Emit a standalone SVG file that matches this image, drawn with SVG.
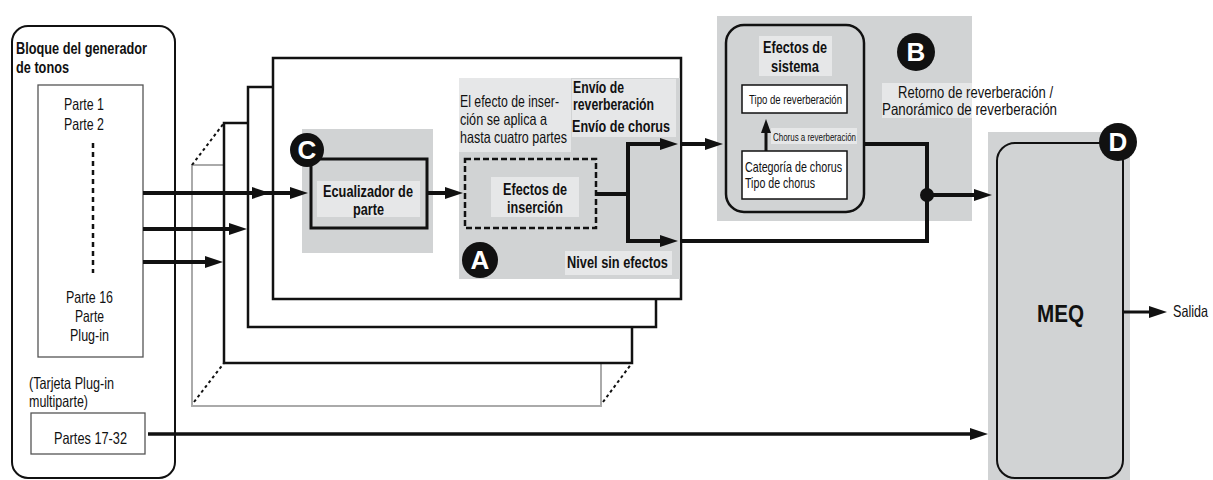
<svg xmlns="http://www.w3.org/2000/svg" width="1213" height="480" viewBox="0 0 1213 480">
<style>
text{font-family:"Liberation Sans",Arial,sans-serif;fill:#111}
.r{font-size:16.5px}
.b{font-size:16.5px;font-weight:bold}
.c{text-anchor:middle}
.gray{fill:#d1d3d4}
.lt{fill:#e6e7e8}
.ln{fill:none;stroke:#111;stroke-width:4}
.badge{fill:#111}
.bt{font-size:26px;font-weight:bold;fill:#fff;text-anchor:middle}
</style>
<defs>
<marker id="ah" markerUnits="userSpaceOnUse" viewBox="0 0 18 12" markerWidth="18" markerHeight="12" refX="1" refY="6" orient="auto-start-reverse" overflow="visible">
<path d="M0,0 L18,6 L0,12 z" fill="#111"/>
</marker>
<marker id="ahs" markerUnits="userSpaceOnUse" viewBox="0 0 14 10" markerWidth="14" markerHeight="10" refX="1" refY="5" orient="auto" overflow="visible">
<path d="M0,0 L14,5 L0,10 z" fill="#111"/>
</marker>
</defs>
<rect width="1213" height="480" fill="#fff"/>

<g id="tone-generator">
<rect x="12" y="26" width="163" height="452" rx="16" fill="#fff" stroke="#111" stroke-width="2"/>
<text class="b" x="16" y="54" textLength="131" lengthAdjust="spacingAndGlyphs">Bloque del generador</text>
<text class="b" x="16" y="73" textLength="53" lengthAdjust="spacingAndGlyphs">de tonos</text>
<rect x="38" y="85" width="105" height="272" fill="#fff" stroke="#555" stroke-width="1.3"/>
<text class="r c" x="84" y="110" textLength="40" lengthAdjust="spacingAndGlyphs">Parte 1</text>
<text class="r c" x="84" y="130" textLength="40" lengthAdjust="spacingAndGlyphs">Parte 2</text>
<line x1="93" y1="143" x2="93" y2="273" stroke="#111" stroke-width="2.5" stroke-dasharray="5,4"/>
<text class="r c" x="89.5" y="303" textLength="47" lengthAdjust="spacingAndGlyphs">Parte 16</text>
<text class="r c" x="89.5" y="322" textLength="29" lengthAdjust="spacingAndGlyphs">Parte</text>
<text class="r c" x="89.5" y="341" textLength="39" lengthAdjust="spacingAndGlyphs">Plug-in</text>
<text class="r" x="29" y="389" textLength="85" lengthAdjust="spacingAndGlyphs">(Tarjeta Plug-in</text>
<text class="r" x="29" y="407" textLength="59" lengthAdjust="spacingAndGlyphs">multiparte)</text>
<rect x="31" y="413" width="114" height="41" fill="#fff" stroke="#555" stroke-width="1.3"/>
<text class="r c" x="90.5" y="444" textLength="73" lengthAdjust="spacingAndGlyphs">Partes 17-32</text>
</g>

<g id="part-stack">
<rect x="192" y="165" width="409" height="241" fill="#fff" stroke="#aaa" stroke-width="2"/>
<line x1="192" y1="165" x2="224" y2="123" stroke="#111" stroke-width="2" stroke-dasharray="3,3"/>
<line x1="194" y1="402" x2="224" y2="363" stroke="#111" stroke-width="2" stroke-dasharray="3,3"/>
<line x1="603" y1="402" x2="632" y2="363" stroke="#111" stroke-width="2" stroke-dasharray="3,3"/>
<rect x="224" y="123" width="408" height="240" fill="#fff" stroke="#111" stroke-width="2.5"/>
<rect x="248" y="87" width="408" height="240" fill="#fff" stroke="#111" stroke-width="2.5"/>
<rect x="273" y="58" width="408" height="241" fill="#fff" stroke="#111" stroke-width="2.5"/>
</g>

<g id="part-eq">
<rect class="gray" x="302" y="129" width="131" height="124"/>
<rect x="311" y="159" width="116" height="69" fill="#d1d3d4" stroke="#111" stroke-width="3"/>
<rect class="lt" x="317" y="181" width="103" height="36"/>
<text class="b c" x="368" y="197" textLength="90" lengthAdjust="spacingAndGlyphs">Ecualizador de</text>
<text class="b c" x="368.5" y="215" textLength="31" lengthAdjust="spacingAndGlyphs">parte</text>
<circle class="badge" cx="307" cy="150" r="17"/>
<text class="bt" x="307" y="159">C</text>
</g>

<g id="insertion">
<rect class="gray" x="459" y="78" width="221" height="201"/>
<rect class="lt" x="459" y="78" width="112" height="74"/>
<rect class="lt" x="572" y="79" width="104" height="58"/>
<rect class="lt" x="565" y="251" width="107" height="24"/>
<text class="r" x="460" y="107" textLength="99" lengthAdjust="spacingAndGlyphs">El efecto de inser-</text>
<text class="r" x="460" y="125" textLength="87" lengthAdjust="spacingAndGlyphs">ción se aplica a</text>
<text class="r" x="460" y="143" textLength="107" lengthAdjust="spacingAndGlyphs">hasta cuatro partes</text>
<text class="b" x="573" y="93" textLength="51" lengthAdjust="spacingAndGlyphs">Envío de</text>
<text class="b" x="573" y="110" textLength="81" lengthAdjust="spacingAndGlyphs">reverberación</text>
<text class="b" x="572" y="132" textLength="98" lengthAdjust="spacingAndGlyphs">Envío de chorus</text>
<text class="b" x="567" y="268" textLength="101" lengthAdjust="spacingAndGlyphs">Nivel sin efectos</text>
<rect class="lt" x="491" y="177" width="88" height="40"/>
<rect x="465" y="159" width="131" height="69" fill="none" stroke="#111" stroke-width="2.5" stroke-dasharray="6,3"/>
<text class="b c" x="535" y="195" textLength="64" lengthAdjust="spacingAndGlyphs">Efectos de</text>
<text class="b c" x="535" y="213" textLength="56" lengthAdjust="spacingAndGlyphs">inserción</text>
<circle class="badge" cx="480" cy="260" r="18"/>
<text class="bt" x="480" y="269">A</text>
</g>

<g id="system-effects">
<rect class="gray" x="717" y="16" width="255" height="205"/>
<rect x="726" y="25" width="138" height="187" rx="18" fill="none" stroke="#111" stroke-width="2.5"/>
<rect class="lt" x="759" y="36" width="73" height="40"/>
<text class="b c" x="795" y="53" textLength="64" lengthAdjust="spacingAndGlyphs">Efectos de</text>
<text class="b c" x="795" y="72" textLength="48" lengthAdjust="spacingAndGlyphs">sistema</text>
<rect x="742" y="85" width="105" height="28" fill="#fff" stroke="#111" stroke-width="1.5"/>
<text class="c" x="795.5" y="104" style="font-size:12.5px" textLength="93" lengthAdjust="spacingAndGlyphs">Tipo de reverberación</text>
<rect class="lt" x="771" y="128" width="86" height="16"/>
<text x="773" y="141" style="font-size:11px" textLength="83" lengthAdjust="spacingAndGlyphs">Chorus a reverberación</text>
<rect x="742" y="151" width="105" height="48" fill="#fff" stroke="#111" stroke-width="1.5"/>
<text x="745" y="172" style="font-size:14.5px" textLength="97" lengthAdjust="spacingAndGlyphs">Categoría de chorus</text>
<text x="745" y="188" style="font-size:14.5px" textLength="70" lengthAdjust="spacingAndGlyphs">Tipo de chorus</text>
<circle class="badge" cx="916" cy="52" r="19"/>
<text class="bt" x="916" y="61">B</text>
<rect class="lt" x="882" y="83" width="90" height="35"/>
<text class="r c" x="975.5" y="98" textLength="155" lengthAdjust="spacingAndGlyphs">Retorno de reverberación /</text>
<text class="r c" x="969.5" y="115" textLength="175" lengthAdjust="spacingAndGlyphs">Panorámico de reverberación</text>
</g>

<g id="meq">
<rect class="gray" x="988" y="132" width="142" height="348"/>
<rect x="997" y="143" width="126" height="335" rx="18" fill="none" stroke="#111" stroke-width="2"/>
<text class="c" x="1060.5" y="322" style="font-size:23px;font-weight:bold" textLength="47" lengthAdjust="spacingAndGlyphs">MEQ</text>
<circle class="badge" cx="1118" cy="142" r="19"/>
<text class="bt" x="1118" y="151">D</text>
</g>

<g id="output">
<text class="r" x="1173" y="317" textLength="35" lengthAdjust="spacingAndGlyphs">Salida</text>
</g>

<g id="connectors">
<path class="ln" d="M143,193 H253" marker-end="url(#ah)"/>
<path class="ln" d="M253,193 H291" marker-end="url(#ah)"/>
<path class="ln" d="M143,229 H230" marker-end="url(#ah)"/>
<path class="ln" d="M143,262 H206" marker-end="url(#ah)"/>
<path class="ln" d="M427,193 H446" marker-end="url(#ah)"/>
<path class="ln" d="M596,194 H628"/>
<path class="ln" d="M661,144 H628 V241 H661" marker-start="url(#ah)" marker-end="url(#ah)"/>
<path class="ln" d="M681,144 H706" marker-end="url(#ah)"/>
<path class="ln" d="M681,241 H927 V144 H864"/>
<circle cx="927" cy="195" r="7" fill="#111"/>
<path class="ln" d="M927,195 H975" marker-end="url(#ah)"/>
<path class="ln" d="M148,434 H971" style="stroke-width:3.5" marker-end="url(#ah)"/>
<path class="ln" d="M766,151 V132" style="stroke-width:3" marker-end="url(#ahs)"/>
<path class="ln" d="M1123,312 H1150" style="stroke-width:3" marker-end="url(#ah)"/>
</g>
</svg>
